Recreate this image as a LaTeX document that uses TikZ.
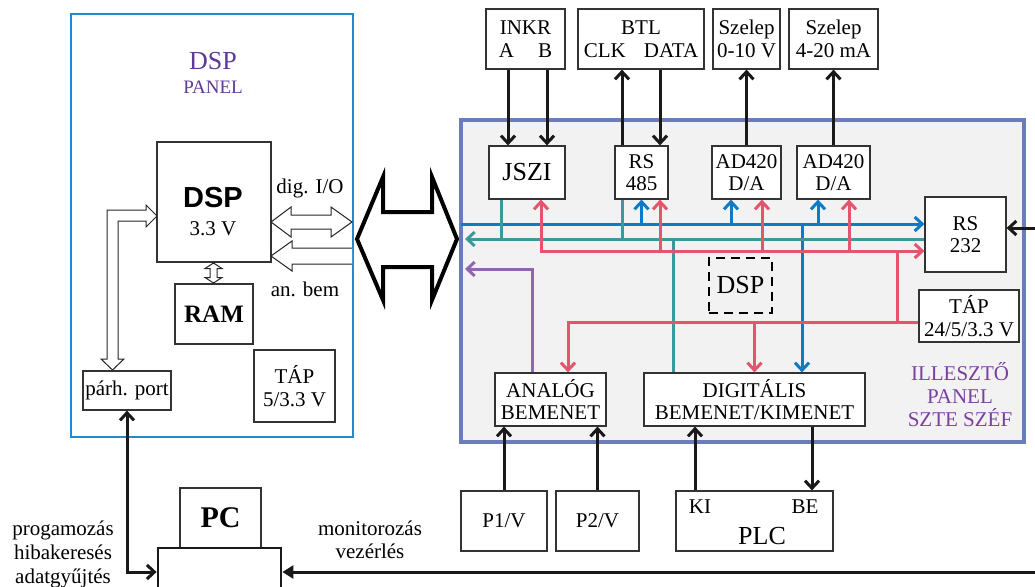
\documentclass[tikz,border=0pt]{standalone}
\usepackage{fontspec}
\setmainfont{Liberation Serif}
\newfontfamily\arialf{Liberation Sans}
\usetikzlibrary{arrows.meta,calc}
\definecolor{pblue}{HTML}{1E8AD3}
\definecolor{pgray}{HTML}{6A7CB9}
\definecolor{pfill}{HTML}{F2F2F2}
\definecolor{cbl}{HTML}{0B7BC8}
\definecolor{ctl}{HTML}{3B999E}
\definecolor{crd}{HTML}{E4546D}
\definecolor{cpu}{HTML}{9266AE}
\definecolor{ptxt}{HTML}{5E3B97}
\definecolor{ptxt2}{HTML}{7B3FA0}
\begin{document}
\begin{tikzpicture}[x=1pt,y=-1pt,
  >={Straight Barb[length=7.5pt,width=14pt]},
  bx/.style={draw=black!80,line width=1.2pt,fill=white,inner sep=0pt,align=center,font=\fontsize{21}{22.5}\selectfont},
  txt/.style={inner sep=0pt,align=center,font=\fontsize{21}{23}\selectfont},
  hollow/.style={draw=black!85,line width=1pt,fill=white,line join=miter},
  busb/.style={draw=cbl,line width=3pt},
  bust/.style={draw=ctl,line width=3pt},
  busr/.style={draw=crd,line width=3pt},
  busp/.style={draw=cpu,line width=3pt},
  blk/.style={draw=black!90,line width=3pt},
]
\useasboundingbox (0,0) rectangle (1035,586);
\fill[white] (0,0) rectangle (1035,586);
\clip (0,0) rectangle (1035,586);

% ---------- DSP panel ----------
\node[draw=pblue,line width=2.8pt,outer sep=0pt,minimum width=282pt,minimum height=423pt,inner sep=0pt] (dsppanel) at (212,225.5) {};
\node[txt,text=ptxt,font=\fontsize{26}{26}\selectfont] (tdsp) at (213,61) {DSP};
\node[txt,text=ptxt,font=\fontsize{19}{19}\selectfont] (tpanel) at (213,87) {PANEL};
\node[bx,minimum width=114pt,minimum height=120pt] (dsp) at (214,202) {};
\node[txt,font=\arialf\bfseries\fontsize{29}{29}\selectfont] (tdspchip) at (213,198) {DSP};
\node[txt] (t33) at (213,229) {3.3 V};
\node[bx,minimum width=78pt,minimum height=60pt,font=\bfseries\fontsize{25}{25}\selectfont] (ram) at (214,314) {RAM};
\node[bx,minimum width=81pt,minimum height=72pt] (tap1) at (294.5,386) {TÁP\\5/3.3 V};
\node[bx,minimum width=88pt,minimum height=39pt] (parh) at (127,390.5) {párh. port};
\node[txt] (tdig) at (310,188) {dig. I/O};
\node[txt] (tan) at (305,289) {an. bem};

% hollow arrows
\draw[hollow] (157,216) -- (146,205) -- (146,210) -- (107,210) -- (107,359) -- (101,359) -- (112.5,370) -- (124,359) -- (118,359) -- (118,221) -- (146,221) -- (146,227) -- cycle;
\draw[hollow] (271,222) -- (291,207) -- (291,215) -- (331,215) -- (331,207) -- (352,222) -- (331,237) -- (331,229) -- (291,229) -- (291,237) -- cycle;
\draw[hollow] (352,264) -- (292,264) -- (292,271) -- (271,256) -- (292,241) -- (292,248) -- (352,248);
\draw[hollow] (213.5,263) -- (222,268.5) -- (217,268.5) -- (217,277.5) -- (222,277.5) -- (213.5,283) -- (205,277.5) -- (210,277.5) -- (210,268.5) -- (205,268.5) -- cycle;

% big black double arrow
\draw[line width=4pt,line join=miter] (357,239) -- (383,177) -- (383,212) -- (432,212) -- (432,177) -- (457,239) -- (432,300) -- (432,267) -- (383,267) -- (383,300) -- cycle;

% ---------- interface panel ----------
\node[draw=pgray,fill=pfill,line width=4.5pt,outer sep=0pt,minimum width=563pt,minimum height=322pt,inner sep=0pt] (panel2) at (742.5,281) {};

\node[bx,minimum width=79pt,minimum height=60pt] (inkr) at (525.5,39) {INKR\\A\hspace{24pt}B};
\node[bx,minimum width=126pt,minimum height=60pt] (btl) at (641,39) {BTL\\CLK\hspace{18pt}DATA};
\node[bx,minimum width=67pt,minimum height=60pt] (sz1) at (746.5,39) {Szelep\\0-10 V};
\node[bx,minimum width=89pt,minimum height=60pt] (sz2) at (833.5,39) {Szelep\\4-20 mA};

\node[bx,minimum width=76pt,minimum height=53pt,font=\fontsize{26}{26}\selectfont] (jszi) at (527,172.5) {JSZI};
\node[bx,minimum width=53pt,minimum height=53pt] (rs485) at (641.5,172.5) {RS\\485};
\node[bx,minimum width=69pt,minimum height=53pt] (ad1) at (746.5,172.5) {AD420\\D/A};
\node[bx,minimum width=73pt,minimum height=53pt] (ad2) at (833.5,172.5) {AD420\\D/A};
\node[bx,minimum width=81pt,minimum height=75pt] (rs232) at (965.5,234.5) {RS\\232};
\node[bx,minimum width=100pt,minimum height=52pt] (tap2) at (969,316) {TÁP\\24/5/3.3 V};
\node[draw=black,line width=2.6pt,dash pattern=on 9pt off 6pt,minimum width=63pt,minimum height=55pt,inner sep=0pt,font=\fontsize{26}{26}\selectfont] (dspd) at (740.5,285.5) {DSP};
\node[bx,minimum width=111pt,minimum height=53pt] (analog) at (550.5,399.5) {ANALÓG\\BEMENET};
\node[bx,minimum width=221pt,minimum height=53pt] (digit) at (754.5,399.5) {DIGITÁLIS\\BEMENET/KIMENET};
\node[txt,text=ptxt2] (till) at (960,395) {ILLESZTŐ\\PANEL\\SZTE SZÉF};

% ---------- bottom ----------
\node[bx,minimum width=86pt,minimum height=60pt] (p1) at (504,521) {P1/V};
\node[bx,minimum width=83pt,minimum height=60pt] (p2) at (597.5,521) {P2/V};
\node[bx,minimum width=157pt,minimum height=60pt] (plc) at (754.5,521) {};
\node[txt] (tki) at (700,507) {KI};
\node[txt] (tbe) at (805,507) {BE};
\node[txt,font=\fontsize{26}{26}\selectfont] (tplc) at (762,536) {PLC};
\node[bx,minimum width=81pt,minimum height=60pt,font=\bfseries\fontsize{30}{30}\selectfont] (pc) at (220.5,518) {PC};
\node[draw=black!90,line width=2.8pt,fill=white,minimum width=123pt,minimum height=60pt,inner sep=0pt] (pcbase) at (219.5,578) {};
\node[txt,font=\fontsize{21}{24}\selectfont] (tprog) at (63,554) {progamozás\\hibakeresés\\adatgyűjtés};
\node[txt] (tmon) at (370,540) {monitorozás\\vezérlés};

% ---------- coordinates ----------
\coordinate (yb) at (0,224);
\coordinate (yt) at (0,239);
\coordinate (yr) at (0,251);
\coordinate (yp) at (0,269);
\coordinate (yc) at (0,572);
\coordinate (jt) at ([xshift=-26pt]jszi.south);
\coordinate (jr) at ([xshift=14pt]jszi.south);
\coordinate (r4t) at ([xshift=-19.5pt]rs485.south);
\coordinate (r4b) at (rs485.south);
\coordinate (r4r) at ([xshift=18.5pt]rs485.south);
\coordinate (a1b) at ([xshift=-15.5pt]ad1.south);
\coordinate (a1r) at ([xshift=15.5pt]ad1.south);
\coordinate (a2b) at ([xshift=-15.5pt]ad2.south);
\coordinate (a2r) at ([xshift=15.5pt]ad2.south);
\coordinate (dgt) at ([xshift=-81.5pt]digit.north);
\coordinate (dgb) at ([xshift=47.5pt]digit.north);
\coordinate (dgr) at (digit.north);
\coordinate (anr) at ([xshift=17.5pt]analog.north);
\coordinate (anp) at ([xshift=-18.5pt]analog.north);
\coordinate (tp) at ([yshift=-6pt]tap2.west);
\coordinate (tv) at ([xshift=-21pt]tap2.west);
\coordinate (pw) at ([xshift=4pt]panel2.west);

% blue bus
\draw[busb,->] (panel2.west |- yb) -- (rs232.west |- yb);
\draw[busb,->] (r4b |- yb) -- (r4b);
\draw[busb,->] (a1b |- yb) -- (a1b);
\draw[busb,->] (a2b |- yb) -- (a2b);
\draw[busb,->] (dgb |- yb) -- (dgb);
% teal bus
\draw[bust,->] (rs232.west |- yt) -- (pw |- yt);
\draw[bust] (jt) -- (jt |- yt);
\draw[bust] (r4t) -- (r4t |- yt);
\draw[bust] (dgt |- yt) -- (dgt);
% red bus
\draw[busr,<->] (jr) -- (jr |- yr) -- (rs232.west |- yr);
\draw[busr,->] (r4r |- yr) -- (r4r);
\draw[busr,->] (a1r |- yr) -- (a1r);
\draw[busr,->] (a2r |- yr) -- (a2r);
\draw[busr] (tv |- yr) -- (tv |- tp);
\draw[busr,->] (tp) -- (anr |- tp) -- (anr);
\draw[busr,->] (dgr |- tp) -- (dgr);
% purple
\draw[busp,->] (anp) -- (anp |- yp) -- (pw |- yp);

% black connectors
\coordinate (ia) at ([xshift=-17.5pt]inkr.south);
\coordinate (ib) at ([xshift=21.5pt]inkr.south);
\coordinate (ck) at ([xshift=-19pt]btl.south);
\coordinate (dt) at ([xshift=19pt]btl.south);
\draw[blk,->] (ia) -- (ia |- jszi.north);
\draw[blk,->] (ib) -- (ib |- jszi.north);
\draw[blk,<-] (ck) -- (ck |- rs485.north);
\draw[blk,->] (dt) -- (dt |- rs485.north);
\draw[blk,<-] (sz1.south) -- (sz1.south |- ad1.north);
\draw[blk,<-] (sz2.south) -- (sz2.south |- ad2.north);
\coordinate (re) at (1040,228);
\draw[blk,->] (re) -- (re -| rs232.east);

\draw[blk,->] (p1.north) -- (p1.north |- analog.south);
\draw[blk,->] (p2.north) -- (p2.north |- analog.south);
\coordinate (ki) at ([xshift=-59.5pt]plc.north);
\coordinate (be) at ([xshift=57.5pt]plc.north);
\draw[blk,->] (ki) -- (ki |- digit.south);
\draw[blk,->] (be |- digit.south) -- (be);
\draw[blk,<->,line join=miter] (parh.south) -- (parh.south |- yc) -- (pcbase.west |- yc);
\coordinate (re2) at (1040,572);
\draw[blk,-{Triangle[length=11pt,width=13pt]}] (re2) -- (re2 -| pcbase.east);
\end{tikzpicture}
\end{document}
